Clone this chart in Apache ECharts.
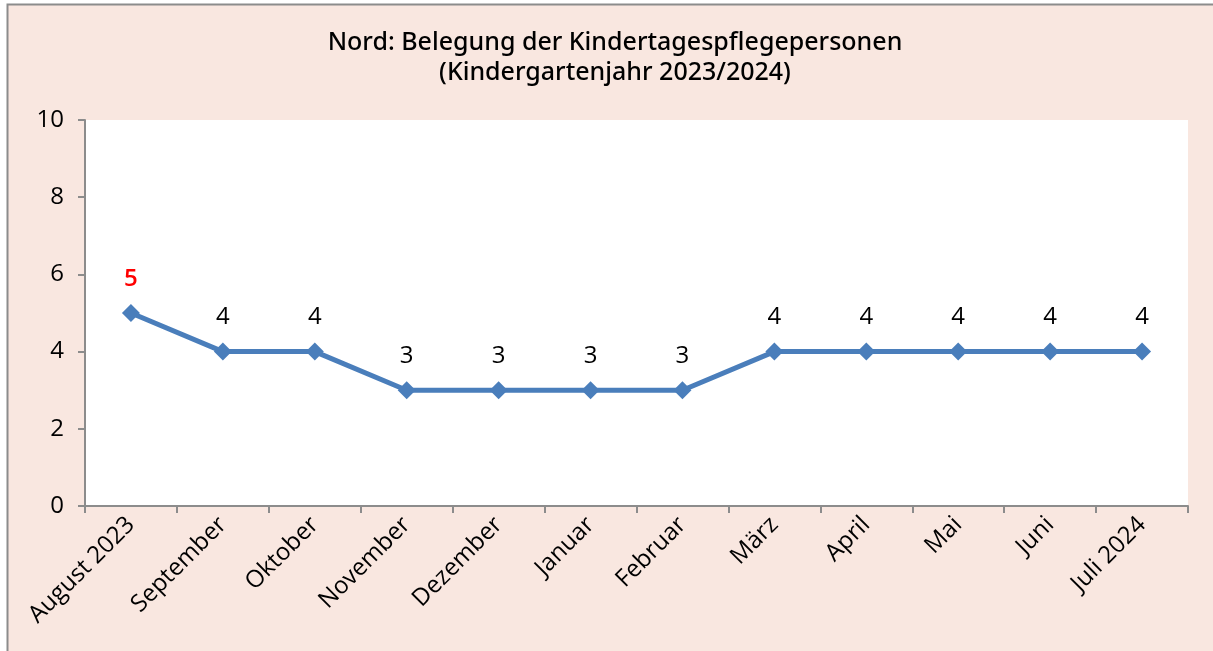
<!DOCTYPE html>
<html>
<head>
<meta charset="utf-8">
<script src="https://cdn.jsdelivr.net/npm/echarts@6/dist/echarts.min.js"></script>
<style>
  html, body { margin: 0; padding: 0; background: #ffffff; }
  #chart { width: 1213px; height: 651px; }
</style>
</head>
<body>
<div id="chart"></div>
<script>
// Monthly occupancy of childminders, Nord district
const months = ['August 2023', 'September', 'Oktober', 'November', 'Dezember', 'Januar',
                'Februar', 'März', 'April', 'Mai', 'Juni', 'Juli 2024'];
const belegung = [5, 4, 4, 3, 3, 3, 3, 4, 4, 4, 4, 4];
const yTicks = [0, 2, 4, 6, 8, 10];

const FONT = '"Open Sans", "Noto Sans", sans-serif';
const chart = echarts.init(document.getElementById('chart'));

chart.setOption({
  animation: false,
  backgroundColor: '#ffffff',
  graphic: [{
    type: 'rect',
    z: -10,
    shape: { x: 7.5, y: 4.5, width: 1230, height: 680 },
    style: { fill: '#f9e7e0', stroke: '#8c8c8c', lineWidth: 2 }
  }],
  title: {
    text: 'Nord: Belegung der Kindertagespflegepersonen\n(Kindergartenjahr 2023/2024)',
    left: 610,
    textAlign: 'center',
    top: 23,
    textStyle: { fontFamily: '"Noto Sans", "Open Sans", sans-serif', fontSize: 25, fontWeight: 500, color: '#000', lineHeight: 30 }
  },
  grid: { left: 85, right: 25, top: 120, bottom: 145, backgroundColor: '#ffffff', show: true, borderWidth: 0 },
  xAxis: {
    type: 'category',
    data: months,
    boundaryGap: true,
    axisLine: { lineStyle: { color: '#8c8c8c', width: 2 } },
    axisTick: { show: true, length: 7, lineStyle: { color: '#8c8c8c', width: 2 } },
    axisLabel: { rotate: 45, fontFamily: FONT, fontSize: 24, color: '#000', margin: 15, interval: 0 }
  },
  yAxis: {
    type: 'value',
    min: 0, max: 10, interval: 2,
    axisLine: { show: true, lineStyle: { color: '#8c8c8c', width: 2 } },
    axisTick: { show: true, length: 7, lineStyle: { color: '#8c8c8c', width: 2 } },
    splitLine: { show: false },
    axisLabel: {
      fontFamily: FONT, fontSize: 24, color: '#000', margin: 21,
      formatter: v => yTicks.includes(v) ? String(v) : ''
    }
  },
  series: [{
    type: 'line',
    data: belegung.map((v, i) => ({
      value: v,
      label: i === 0 ? { color: '#ff0000', fontWeight: 600 } : undefined
    })),
    symbol: 'diamond',
    symbolSize: 18,
    itemStyle: { color: '#4a7ebb' },
    lineStyle: { color: '#4a7ebb', width: 5 },
    label: {
      show: true, position: 'top', distance: 13,
      fontFamily: FONT, fontSize: 24, color: '#000'
    }
  }]
});
</script>
</body>
</html>
